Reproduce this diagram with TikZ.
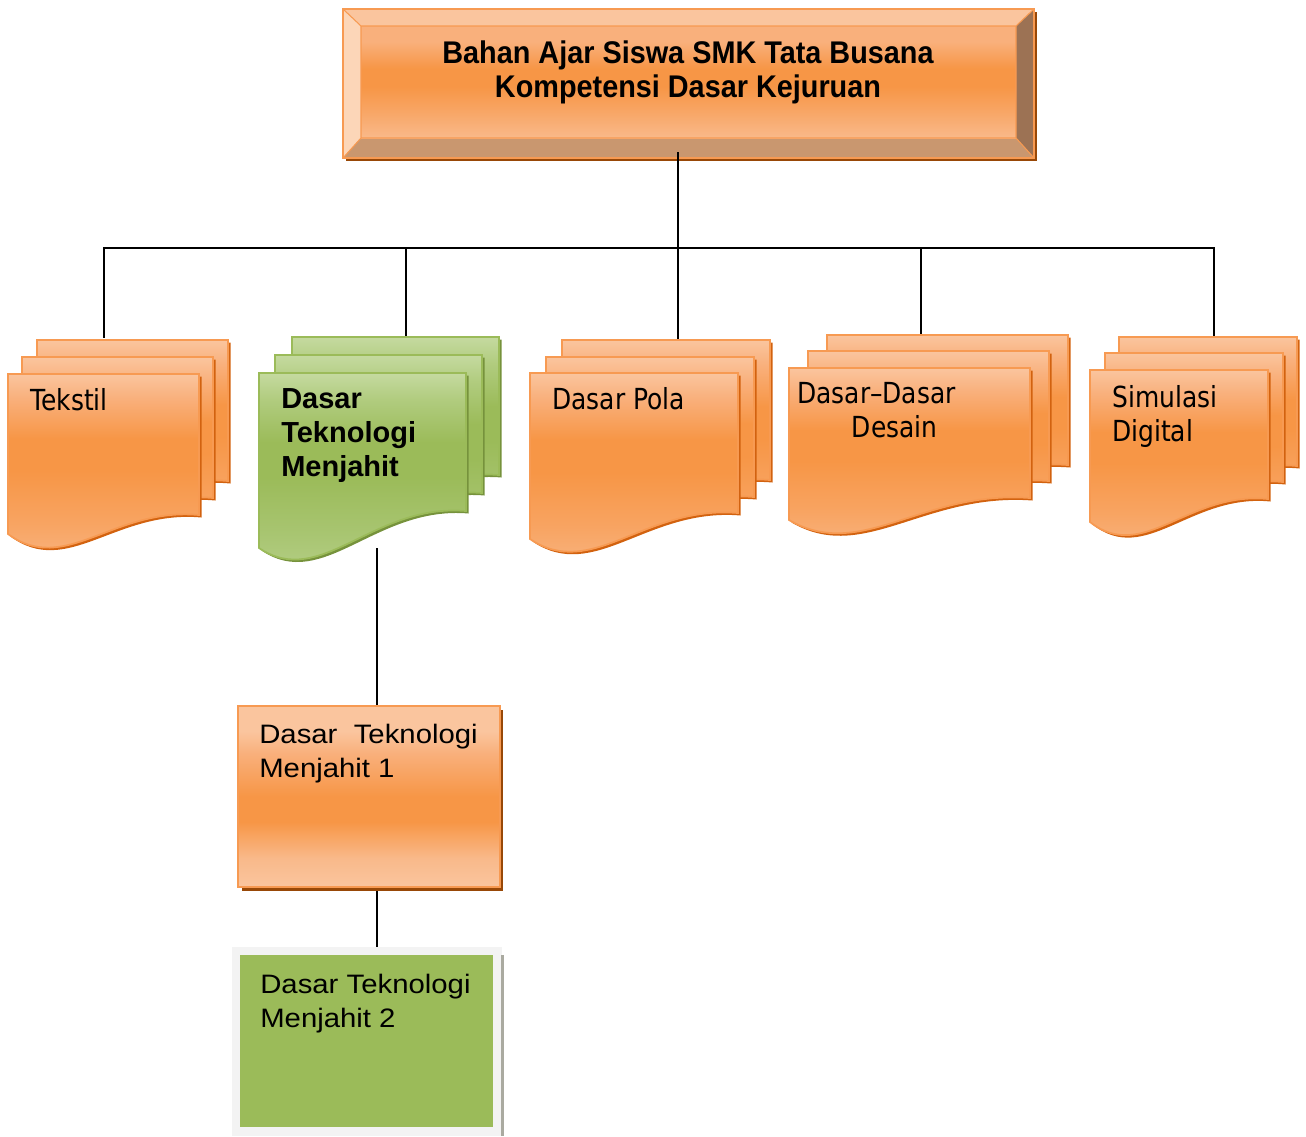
\documentclass[tikz,border=0pt]{standalone}
\usepackage{fontspec}
\setmainfont{Liberation Sans}
\newfontfamily\tahoma[FakeStretch=0.86]{DejaVu Sans}
\newfontfamily\titlef[FakeStretch=0.92]{Liberation Sans}
\newfontfamily\arialw[FakeStretch=1.1]{Liberation Sans}
\definecolor{orA}{HTML}{F79646}
\definecolor{orTop}{HTML}{FAC59E}
\definecolor{orTop2}{HTML}{F9B07C}
\definecolor{orLow}{HTML}{F8A462}
\definecolor{orBot}{HTML}{F9B98A}
\definecolor{orB}{HTML}{F79A52}
\definecolor{orShad}{HTML}{D2620F}
\definecolor{grA}{HTML}{9BBB59}
\definecolor{grTop}{HTML}{C5DAA0}
\definecolor{grTop2}{HTML}{B1CC7F}
\definecolor{grLow}{HTML}{A8C571}
\definecolor{grBot}{HTML}{B9D28E}
\definecolor{grB}{HTML}{9BBB59}
\definecolor{grShad}{HTML}{76923C}
\definecolor{darkShad}{HTML}{984807}
\definecolor{bevL}{HTML}{FCD6B8}
\definecolor{bevR}{HTML}{9C7254}
\definecolor{bevB}{HTML}{C9976F}
\definecolor{frameG}{HTML}{F3F3F3}
\definecolor{edgeG}{HTML}{AAAAA0}
\pgfdeclareverticalshading{orsh}{100bp}{color(0bp)=(orBot); color(25bp)=(orBot); color(38bp)=(orLow); color(51bp)=(orA); color(59bp)=(orA); color(69bp)=(orTop2); color(75bp)=(orTop); color(100bp)=(orTop)}
\pgfdeclareverticalshading{grsh}{100bp}{color(0bp)=(grBot); color(25bp)=(grBot); color(38bp)=(grLow); color(51bp)=(grA); color(59bp)=(grA); color(69bp)=(grTop2); color(75bp)=(grTop); color(100bp)=(grTop)}
\pgfdeclareverticalshading{tsh}{100bp}{color(0bp)=(orBot); color(25bp)=(orBot); color(38bp)=(orLow); color(48bp)=(orA); color(56bp)=(orA); color(68bp)=(orTop2); color(75bp)=(orTop2); color(100bp)=(orTop2)}
\pgfdeclareverticalshading{bsh}{100bp}{color(0bp)=(orTop); color(25bp)=(orTop); color(33bp)=(orBot); color(43bp)=(orA); color(50bp)=(orA); color(62bp)=(orTop2); color(68bp)=(orTop); color(75bp)=(orTop); color(100bp)=(orTop)}
\newcommand\docW{0}\newcommand\docH{0}\newcommand\docHL{0}
\newcommand\setdoc[3]{\renewcommand\docW{#1}\renewcommand\docH{#2}\renewcommand\docHL{#3}}
\newcommand\docpage[3]{%
  \path[#1] ({#2},{#3}) -- ({#2+\docW},{#3}) -- ({#2+\docW},{#3+\docH})
    .. controls ({#2+0.55*\docW},{#3+\docH-8}) and ({#2+0.3*\docW},{#3+\docHL+42}) .. ({#2},{#3+\docHL}) -- cycle;}
\newcommand\onepage[3]{\docpage{#1shadow}{#2+2.5}{#3+2.5}\docpage{#1page}{#2}{#3}}
\newcommand\docstack[7]{\onepage{#1}{#6}{#7}\onepage{#1}{#4}{#5}\onepage{#1}{#2}{#3}}
\tikzset{
  orpage/.style={shading=orsh, shade, draw=orB, line width=1.3},
  orshadow/.style={fill=orShad},
  grpage/.style={shading=grsh, shade, draw=grB, line width=1.3},
  grshadow/.style={fill=grShad},
  conn/.style={line width=1.4pt, draw=black},
  tlbl/.style={anchor=base west, inner sep=0pt, font=\tahoma\fontsize{21.75}{25.5}\selectfont},
  blbl/.style={anchor=base west, inner sep=0pt, font=\bfseries\fontsize{21.75}{25.5}\selectfont},
  albl/.style={anchor=base west, inner sep=0pt, font=\arialw\fontsize{20}{25.5}\selectfont},
}
\begin{document}
\begin{tikzpicture}[x=0.75pt,y=-0.75pt]
\useasboundingbox (0,0) rectangle (1306,1136);
% ---------- coordinates for connectors
\coordinate (tsrc) at (678,152);
\coordinate (hub) at (678,248);
\coordinate (tekT) at (104,338);
\coordinate (dtmT) at (406,338);
\coordinate (polT) at (678,342);
\coordinate (ddT) at (921,337);
\coordinate (simT) at (1214,339);
\coordinate (dtmB) at (377,548);
\coordinate (b1T) at (377,707);
\coordinate (b1B) at (377,889);
\coordinate (b2T) at (377,948);
% ---------- connectors
\draw[conn] (tsrc) -- (polT);
\draw[conn] (hub) -| (tekT);
\draw[conn] (hub) -| (dtmT);
\draw[conn] (hub) -| (ddT);
\draw[conn] (hub) -| (simT);
\draw[conn] (dtmB) -- (b1T);
\draw[conn] (b1B) -- (b2T);
% ---------- title box
\fill[darkShad] (346,12) rectangle (1037,161);
\fill[orTop] (343,9) -- (1034,9) -- (1016,26) -- (361,26) -- cycle;
\fill[bevL] (343,9) -- (361,26) -- (361,138) -- (343,158) -- cycle;
\fill[bevR] (1034,9) -- (1034,158) -- (1016,138) -- (1016,26) -- cycle;
\fill[bevB] (343,158) -- (361,138) -- (1016,138) -- (1034,158) -- cycle;
\shade[shading=tsh] (361,26) rectangle (1016,138);
\draw[orB, line width=0.8] (361,26) rectangle (1016,138)
  (343,9) -- (361,26) (1034,9) -- (1016,26) (343,158) -- (361,138) (1034,158) -- (1016,138);
\draw[orB, line width=1.3] (343,9) rectangle (1034,158);
\draw[conn] (tsrc) -- (hub);
% ---------- document stacks
\setdoc{191}{141}{160}
\docstack{or}{8}{374}{22}{357}{37}{340}
\setdoc{207}{138}{175}
\docstack{gr}{259}{373}{275}{355}{292}{337}
\setdoc{208}{140}{166}
\docstack{or}{530}{373}{546}{357}{562}{340}
\setdoc{241}{130}{152}
\docstack{or}{789}{368}{808}{351}{827}{335}
\setdoc{178}{129}{152}
\docstack{or}{1090}{370}{1105}{353}{1119}{337}
% ---------- box 1
\fill[darkShad] (242,710) rectangle (503,891);
\shade[shading=bsh] (238,706) rectangle (500,887);
\draw[orB, line width=1.5] (238,706) rectangle (500,887);
% ---------- box 2
\fill[frameG] (232,947) rectangle (502,1136);
\fill[edgeG] (501,955) rectangle (504,1136);
\fill[grA] (240,955) rectangle (493,1127);
% ---------- texts
\node[anchor=base, inner sep=0pt, font=\titlef\bfseries\fontsize{23.5}{25.5}\selectfont] (title) at (688,63)
  {\begin{tabular}[t]{@{}c@{}}Bahan Ajar Siswa SMK Tata Busana\\Kompetensi Dasar Kejuruan\end{tabular}};
\node[tlbl] (tekstil) at (30,410) {Tekstil};
\node[blbl] (dtm) at (281,408) {\begin{tabular}[t]{@{}l@{}}Dasar\\Teknologi\\Menjahit\end{tabular}};
\node[tlbl] (pola) at (552,409) {Dasar Pola};
\node[tlbl] (ddd) at (797,403) {\begin{tabular}[t]{@{}l@{}}Dasar–Dasar\\\hspace*{41pt}Desain\end{tabular}};
\node[tlbl] (sim) at (1112,407) {\begin{tabular}[t]{@{}l@{}}Simulasi\\Digital\end{tabular}};
\node[albl] (dtm1) at (259,743) {\begin{tabular}[t]{@{}l@{}}Dasar\ \ Teknologi\\Menjahit 1\end{tabular}};
\node[albl] (dtm2) at (260,993) {\begin{tabular}[t]{@{}l@{}}Dasar Teknologi\\Menjahit 2\end{tabular}};
\end{tikzpicture}
\end{document}
